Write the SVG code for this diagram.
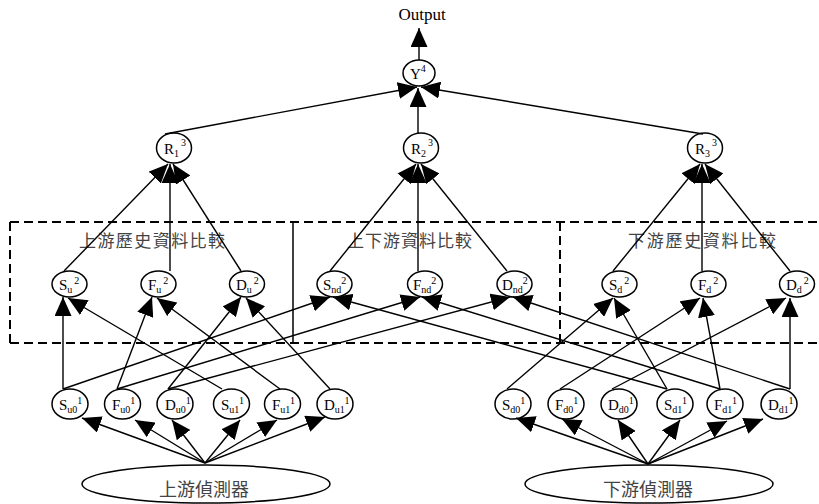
<svg xmlns="http://www.w3.org/2000/svg" width="819" height="504" viewBox="0 0 819 504">
  <defs>
    <marker id="ah" markerUnits="userSpaceOnUse" viewBox="0 0 19 17" refX="19" refY="8.5" markerWidth="19" markerHeight="17" orient="auto">
      <path d="M0,0 L19,8.5 L0,17 z" fill="#000"/>
    </marker>
  </defs>
  <style>
    .node ellipse { fill: #fff; stroke: #000; stroke-width: 1.5; }
    .lbl { font-family: "Liberation Serif", "Times New Roman", serif; font-size: 15px; fill: #000; }
    .big { font-size: 17px; }
    .sub { font-size: 10px; }
    .sup { font-size: 10px; }
    .cjk { font-family: "Noto Sans CJK TC", "Noto Sans CJK SC", sans-serif; fill: #444; }
    .edge line { stroke: #000; stroke-width: 1.4; marker-end: url(#ah); }
    .dash { stroke: #000; stroke-width: 2; stroke-dasharray: 9 5; fill: none; }
    .solid { stroke: #000; stroke-width: 1.5; fill: none; }
  </style>

  <!-- comparison groups -->
  <g id="groups">
    <line class="dash" x1="10" y1="222" x2="819" y2="222"/>
    <line class="dash" x1="10" y1="343" x2="819" y2="343"/>
    <line class="dash" x1="10" y1="222" x2="10" y2="343"/>
    <line class="solid" x1="293" y1="222" x2="293" y2="343"/>
    <line class="dash" x1="560" y1="222" x2="560" y2="343"/>
    <text class="cjk" x="79" y="247" font-size="17" textLength="146" lengthAdjust="spacing">上游歷史資料比較</text>
    <text class="cjk" x="347" y="247" font-size="17" textLength="125" lengthAdjust="spacing">上下游資料比較</text>
    <text class="cjk" x="628" y="247" font-size="17" textLength="148" lengthAdjust="spacing">下游歷史資料比較</text>
  </g>

  <!-- output -->
  <text id="output" class="lbl big" x="422" y="20" text-anchor="middle">Output</text>

  <!-- top node -->
  <g id="Y4" class="node">
    <ellipse cx="419" cy="73" rx="16" ry="13"/>
    <text class="lbl" x="410" y="79">Y<tspan class="sup" dy="-7">4</tspan></text>
  </g>

  <!-- layer 3 -->
  <g id="R1" class="node">
    <ellipse cx="174" cy="148" rx="17.5" ry="15"/>
    <text class="lbl" x="164" y="154">R<tspan class="sub" dy="3">1</tspan><tspan class="sup" dx="2" dy="-11">3</tspan></text>
  </g>
  <g id="R2" class="node">
    <ellipse cx="421" cy="148" rx="17.5" ry="15"/>
    <text class="lbl" x="411" y="154">R<tspan class="sub" dy="3">2</tspan><tspan class="sup" dx="2" dy="-11">3</tspan></text>
  </g>
  <g id="R3" class="node">
    <ellipse cx="705" cy="148" rx="17.5" ry="15"/>
    <text class="lbl" x="695" y="154">R<tspan class="sub" dy="3">3</tspan><tspan class="sup" dx="2" dy="-11">3</tspan></text>
  </g>

  <!-- layer 2 -->
  <g id="Su2" class="node">
    <ellipse cx="69.5" cy="284" rx="17.5" ry="13"/>
    <text class="lbl" x="59" y="290">S<tspan class="sub" dy="3">u</tspan><tspan class="sup" dx="2" dy="-9">2</tspan></text>
  </g>
  <g id="Fu2" class="node">
    <ellipse cx="158.5" cy="284" rx="17.5" ry="13"/>
    <text class="lbl" x="148" y="290">F<tspan class="sub" dy="3">u</tspan><tspan class="sup" dx="2" dy="-9">2</tspan></text>
  </g>
  <g id="Du2" class="node">
    <ellipse cx="247" cy="284" rx="17.5" ry="13"/>
    <text class="lbl" x="236" y="290">D<tspan class="sub" dy="3">u</tspan><tspan class="sup" dx="2" dy="-9">2</tspan></text>
  </g>
  <g id="Snd2" class="node">
    <ellipse cx="334.5" cy="284" rx="17.5" ry="13"/>
    <text class="lbl" x="323" y="290">S<tspan class="sub" dy="3">nd</tspan><tspan class="sup" dy="-9">2</tspan></text>
  </g>
  <g id="Fnd2" class="node">
    <ellipse cx="425" cy="284" rx="17.5" ry="13"/>
    <text class="lbl" x="413" y="290">F<tspan class="sub" dy="3">nd</tspan><tspan class="sup" dy="-9">2</tspan></text>
  </g>
  <g id="Dnd2" class="node">
    <ellipse cx="514.5" cy="284" rx="17.5" ry="13"/>
    <text class="lbl" x="502" y="290">D<tspan class="sub" dy="3">nd</tspan><tspan class="sup" dy="-9">2</tspan></text>
  </g>
  <g id="Sd2" class="node">
    <ellipse cx="619.5" cy="284" rx="17.5" ry="13"/>
    <text class="lbl" x="609" y="290">S<tspan class="sub" dy="3">d</tspan><tspan class="sup" dx="2" dy="-9">2</tspan></text>
  </g>
  <g id="Fd2" class="node">
    <ellipse cx="708.5" cy="284" rx="17.5" ry="13"/>
    <text class="lbl" x="698" y="290">F<tspan class="sub" dy="3">d</tspan><tspan class="sup" dx="2" dy="-9">2</tspan></text>
  </g>
  <g id="Dd2" class="node">
    <ellipse cx="797" cy="284" rx="17.5" ry="13"/>
    <text class="lbl" x="786" y="290">D<tspan class="sub" dy="3">d</tspan><tspan class="sup" dx="2" dy="-9">2</tspan></text>
  </g>

  <!-- layer 1: upstream -->
  <g id="Su0" class="node">
    <ellipse cx="70" cy="404" rx="18" ry="15"/>
    <text class="lbl" x="59" y="410">S<tspan class="sub" dy="3">u0</tspan><tspan class="sup" dy="-9">1</tspan></text>
  </g>
  <g id="Fu0" class="node">
    <ellipse cx="122.5" cy="404" rx="18" ry="15"/>
    <text class="lbl" x="112" y="410">F<tspan class="sub" dy="3">u0</tspan><tspan class="sup" dy="-9">1</tspan></text>
  </g>
  <g id="Du0" class="node">
    <ellipse cx="175" cy="404" rx="18" ry="15"/>
    <text class="lbl" x="165" y="410">D<tspan class="sub" dy="3">u0</tspan><tspan class="sup" dy="-9">1</tspan></text>
  </g>
  <g id="Su1" class="node">
    <ellipse cx="231.5" cy="404" rx="18" ry="15"/>
    <text class="lbl" x="221" y="410">S<tspan class="sub" dy="3">u1</tspan><tspan class="sup" dy="-9">1</tspan></text>
  </g>
  <g id="Fu1" class="node">
    <ellipse cx="282.5" cy="404" rx="18" ry="15"/>
    <text class="lbl" x="272" y="410">F<tspan class="sub" dy="3">u1</tspan><tspan class="sup" dy="-9">1</tspan></text>
  </g>
  <g id="Du1" class="node">
    <ellipse cx="335" cy="404" rx="18" ry="15"/>
    <text class="lbl" x="324" y="410">D<tspan class="sub" dy="3">u1</tspan><tspan class="sup" dy="-9">1</tspan></text>
  </g>

  <!-- layer 1: downstream -->
  <g id="Sd0" class="node">
    <ellipse cx="513" cy="404" rx="18" ry="15"/>
    <text class="lbl" x="502" y="410">S<tspan class="sub" dy="3">d0</tspan><tspan class="sup" dy="-9">1</tspan></text>
  </g>
  <g id="Fd0" class="node">
    <ellipse cx="566" cy="404" rx="18" ry="15"/>
    <text class="lbl" x="555" y="410">F<tspan class="sub" dy="3">d0</tspan><tspan class="sup" dy="-9">1</tspan></text>
  </g>
  <g id="Dd0" class="node">
    <ellipse cx="619" cy="404" rx="18" ry="15"/>
    <text class="lbl" x="608" y="410">D<tspan class="sub" dy="3">d0</tspan><tspan class="sup" dy="-9">1</tspan></text>
  </g>
  <g id="Sd1" class="node">
    <ellipse cx="675" cy="404" rx="18" ry="15"/>
    <text class="lbl" x="664" y="410">S<tspan class="sub" dy="3">d1</tspan><tspan class="sup" dy="-9">1</tspan></text>
  </g>
  <g id="Fd1" class="node">
    <ellipse cx="725" cy="404" rx="18" ry="15"/>
    <text class="lbl" x="714" y="410">F<tspan class="sub" dy="3">d1</tspan><tspan class="sup" dy="-9">1</tspan></text>
  </g>
  <g id="Dd1" class="node">
    <ellipse cx="779" cy="404" rx="18" ry="15"/>
    <text class="lbl" x="768" y="410">D<tspan class="sub" dy="3">d1</tspan><tspan class="sup" dy="-9">1</tspan></text>
  </g>

  <!-- sensors -->
  <g id="upstream" class="node">
    <ellipse cx="206" cy="484" rx="124" ry="19"/>
    <text class="cjk" x="204" y="496" font-size="18" text-anchor="middle">上游偵測器</text>
  </g>
  <g id="downstream" class="node">
    <ellipse cx="649" cy="484" rx="124" ry="19"/>
    <text class="cjk" x="648" y="496" font-size="18" text-anchor="middle">下游偵測器</text>
  </g>

  <!-- connectors -->
  <g id="connectors" class="edge">
    <line x1="419" y1="60" x2="419" y2="28"/>
    <!-- layer 3 to Y -->
    <line x1="165" y1="134" x2="417" y2="87"/>
    <line x1="418" y1="133" x2="418" y2="88"/>
    <line x1="703" y1="134" x2="421" y2="87"/>
    <!-- layer 2 to layer 3 -->
    <line x1="64" y1="271" x2="168" y2="164"/>
    <line x1="170" y1="271" x2="170" y2="164"/>
    <line x1="241" y1="271" x2="173" y2="164"/>
    <line x1="330" y1="271" x2="416" y2="164"/>
    <line x1="418" y1="271" x2="418" y2="164"/>
    <line x1="507" y1="271" x2="421" y2="164"/>
    <line x1="613" y1="271" x2="700" y2="164"/>
    <line x1="702" y1="271" x2="702" y2="164"/>
    <line x1="790" y1="271" x2="705" y2="164"/>
    <!-- upstream layer 1 to layer 2 -->
    <line x1="63" y1="389" x2="63" y2="297"/>
    <line x1="63" y1="389" x2="330" y2="297"/>
    <line x1="117" y1="389" x2="152" y2="297"/>
    <line x1="117" y1="389" x2="420" y2="297"/>
    <line x1="168" y1="389" x2="241" y2="297"/>
    <line x1="168" y1="389" x2="510" y2="297"/>
    <line x1="222" y1="389" x2="68" y2="298"/>
    <line x1="280" y1="389" x2="157" y2="298"/>
    <line x1="330" y1="389" x2="246" y2="298"/>
    <!-- downstream layer 1 to layer 2 -->
    <line x1="507" y1="389" x2="613" y2="298"/>
    <line x1="560" y1="389" x2="700" y2="298"/>
    <line x1="612" y1="389" x2="786" y2="298"/>
    <line x1="667" y1="389" x2="614" y2="298"/>
    <line x1="667" y1="389" x2="333" y2="297"/>
    <line x1="720" y1="389" x2="703" y2="298"/>
    <line x1="720" y1="389" x2="422" y2="297"/>
    <line x1="790" y1="389" x2="790" y2="298"/>
    <line x1="790" y1="389" x2="513" y2="297"/>
    <!-- upstream sensor fan -->
    <line x1="205" y1="463" x2="82" y2="418"/>
    <line x1="205" y1="463" x2="135" y2="420"/>
    <line x1="205" y1="463" x2="172" y2="420"/>
    <line x1="205" y1="463" x2="240" y2="420"/>
    <line x1="205" y1="463" x2="277" y2="420"/>
    <line x1="205" y1="463" x2="325" y2="417"/>
    <!-- downstream sensor fan -->
    <line x1="648" y1="464" x2="516" y2="418"/>
    <line x1="648" y1="464" x2="562" y2="419"/>
    <line x1="648" y1="464" x2="618" y2="420"/>
    <line x1="648" y1="464" x2="680" y2="420"/>
    <line x1="648" y1="464" x2="727" y2="421"/>
    <line x1="648" y1="464" x2="763" y2="419"/>
  </g>
</svg>
